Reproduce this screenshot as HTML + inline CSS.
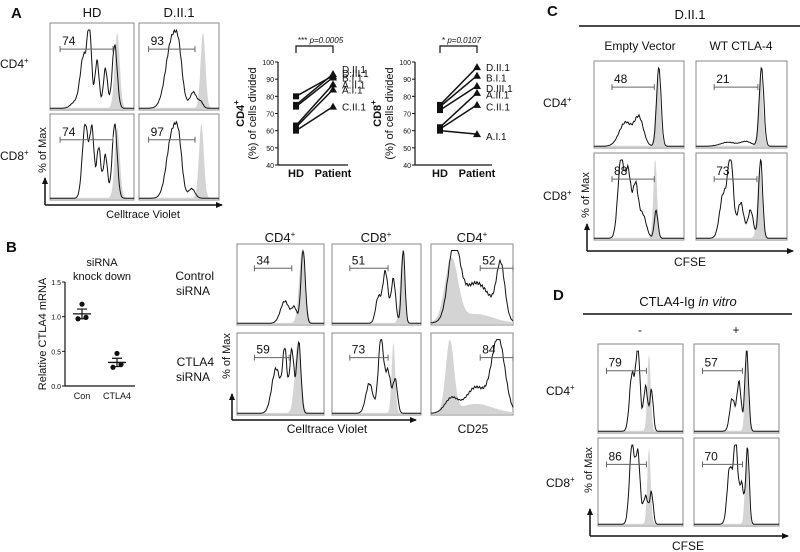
<!DOCTYPE html>
<html><head><meta charset="utf-8">
<style>
html,body{margin:0;padding:0;background:#fff;}
svg{display:block;font-family:"Liberation Sans",sans-serif;}
.lab{font-family:"Liberation Sans",sans-serif;fill:#111;}
</style></head>
<body>
<svg id="fig" width="800" height="552" viewBox="0 0 800 552" xmlns="http://www.w3.org/2000/svg">
<defs>
<marker id="arr" markerWidth="8" markerHeight="8" refX="6" refY="3" orient="auto" markerUnits="userSpaceOnUse"><path d="M0,0 L7,3 L0,6 Z" fill="#111"/></marker>
</defs>
<!-- Panel letters -->
<text x="11" y="18" font-size="15" font-weight="bold" class="lab">A</text>
<text x="6" y="252" font-size="15" font-weight="bold" class="lab">B</text>
<text x="547" y="16" font-size="15" font-weight="bold" class="lab">C</text>
<text x="553" y="300" font-size="15" font-weight="bold" class="lab">D</text>

<!-- Panel A text -->
<text x="92" y="17" font-size="13" text-anchor="middle" class="lab">HD</text>
<text x="179" y="17" font-size="13" text-anchor="middle" class="lab">D.II.1</text>
<text x="0" y="68" font-size="12" class="lab">CD4<tspan font-size="8" dy="-5">+</tspan></text>
<text x="0" y="160" font-size="12" class="lab">CD8<tspan font-size="8" dy="-5">+</tspan></text>
<text transform="translate(46,150) rotate(-90)" font-size="11" text-anchor="middle" class="lab">% of Max</text>
<line x1="45" y1="205" x2="45" y2="178" stroke="#111" stroke-width="1.5" marker-end="url(#arr)"/>
<line x1="45" y1="205" x2="222" y2="205" stroke="#111" stroke-width="1.5" marker-end="url(#arr)"/>
<text x="143" y="218" font-size="11" text-anchor="middle" class="lab">Celltrace Violet</text>

<!-- Panel B text -->
<text x="102" y="266" font-size="11" text-anchor="middle" class="lab">siRNA</text>
<text x="102" y="280" font-size="11" text-anchor="middle" class="lab">knock down</text>
<text x="280" y="242" font-size="13" text-anchor="middle" class="lab">CD4<tspan font-size="8" dy="-5">+</tspan></text>
<text x="376" y="242" font-size="13" text-anchor="middle" class="lab">CD8<tspan font-size="8" dy="-5">+</tspan></text>
<text x="472" y="242" font-size="13" text-anchor="middle" class="lab">CD4<tspan font-size="8" dy="-5">+</tspan></text>
<text x="214" y="280" font-size="12" text-anchor="end" class="lab">Control</text>
<text x="210" y="295" font-size="12" text-anchor="end" class="lab">siRNA</text>
<text x="214" y="366" font-size="12" text-anchor="end" class="lab">CTLA4</text>
<text x="210" y="381" font-size="12" text-anchor="end" class="lab">siRNA</text>
<text transform="translate(230,356) rotate(-90)" font-size="11" text-anchor="middle" class="lab">% of Max</text>
<line x1="232" y1="420" x2="232" y2="394" stroke="#111" stroke-width="1.5" marker-end="url(#arr)"/>
<line x1="232" y1="420" x2="416" y2="420" stroke="#111" stroke-width="1.5" marker-end="url(#arr)"/>
<text x="327" y="433" font-size="12" text-anchor="middle" class="lab">Celltrace Violet</text>
<text x="473" y="433" font-size="12" text-anchor="middle" class="lab">CD25</text>

<!-- Panel C text -->
<text x="690" y="19" font-size="13" text-anchor="middle" class="lab">D.II.1</text>
<line x1="579" y1="26" x2="800" y2="26" stroke="#111" stroke-width="1.5"/>
<text x="640" y="50" font-size="12" text-anchor="middle" class="lab">Empty Vector</text>
<text x="741" y="50" font-size="12" text-anchor="middle" class="lab">WT CTLA-4</text>
<text x="543" y="107" font-size="12" class="lab">CD4<tspan font-size="8" dy="-5">+</tspan></text>
<text x="543" y="200" font-size="12" class="lab">CD8<tspan font-size="8" dy="-5">+</tspan></text>
<text transform="translate(589,195) rotate(-90)" font-size="11" text-anchor="middle" class="lab">% of Max</text>
<line x1="587" y1="251" x2="587" y2="224" stroke="#111" stroke-width="1.5" marker-end="url(#arr)"/>
<line x1="587" y1="251" x2="793" y2="251" stroke="#111" stroke-width="1.5" marker-end="url(#arr)"/>
<text x="690" y="266" font-size="12" text-anchor="middle" class="lab">CFSE</text>

<!-- Panel D text -->
<text x="688" y="306" font-size="13" text-anchor="middle" class="lab">CTLA4-Ig <tspan font-style="italic">in vitro</tspan></text>
<line x1="583" y1="314" x2="792" y2="314" stroke="#111" stroke-width="1.5"/>
<text x="640" y="334" font-size="12" text-anchor="middle" class="lab">-</text>
<text x="736" y="334" font-size="12" text-anchor="middle" class="lab">+</text>
<text x="546" y="395" font-size="12" class="lab">CD4<tspan font-size="8" dy="-5">+</tspan></text>
<text x="546" y="487" font-size="12" class="lab">CD8<tspan font-size="8" dy="-5">+</tspan></text>
<text transform="translate(592,470) rotate(-90)" font-size="11" text-anchor="middle" class="lab">% of Max</text>
<line x1="590" y1="536" x2="590" y2="509" stroke="#111" stroke-width="1.5" marker-end="url(#arr)"/>
<line x1="590" y1="536" x2="788" y2="536" stroke="#111" stroke-width="1.5" marker-end="url(#arr)"/>
<text x="688" y="550" font-size="12" text-anchor="middle" class="lab">CFSE</text>

<g id="dyn"></g>
</svg>
<script>
// ---- Paired chart data (panel A) ----
const cd4HD = [80, 75, 74, 63, 62, 60];
const cd4Patient = [92, 93, 91, 87, 84, 74];
const cd4Labels = ["D.II.1", "D.III.1", "B.I.1", "A.II.1", "A.I.1", "C.II.1"];
const cd4LabelVals = [96, 93.5, 91, 87, 84, 74];
const cd8HD = [75, 74, 72, 62, 61, 60];
const cd8Patient = [97, 92, 86, 82, 75, 58];
const cd8Labels = ["D.II.1", "B.I.1", "D.III.1", "A.II.1", "C.II.1", "A.I.1"];
const cd8LabelVals = [97, 91, 85, 81, 74, 57];
const pairTicks = [40, 50, 60, 70, 80, 90, 100];
// ---- Knockdown scatter (panel B) ----
const kdGroups = ["Con", "CTLA4"];
const kdPoints = [[1.18, 0.97, 0.99], [0.47, 0.27, 0.31]];
const kdMean = [1.04, 0.34];
const kdSem = [0.07, 0.06];
const kdTicks = [0.0, 0.5, 1.0, 1.5];
// ---- Histogram data: peaks [position, height, sigma], grey [pos, height, sigma] ----
const histPeaks = {
 aHD4: [[0.3,0.08,0.05],[0.4,0.65,0.04],[0.47,0.95,0.025],[0.56,0.6,0.025],[0.66,0.5,0.025],[0.77,0.8,0.03]],
 aD4: [[0.42,0.9,0.08],[0.5,0.3,0.04],[0.68,0.2,0.04],[0.77,0.08,0.03]],
 aHD8: [[0.42,0.95,0.035],[0.5,0.85,0.025],[0.58,0.65,0.025],[0.66,0.55,0.025],[0.77,0.95,0.03]],
 aD8: [[0.42,0.85,0.07],[0.5,0.4,0.04],[0.66,0.12,0.04]],
 bC4: [[0.55,0.3,0.05],[0.66,0.2,0.03],[0.76,1.0,0.025]],
 bC8: [[0.52,0.35,0.03],[0.6,0.7,0.03],[0.69,0.6,0.025],[0.8,1.0,0.02]],
 bC25: [[0.28,0.95,0.07],[0.55,0.55,0.18],[0.85,0.7,0.05]],
 bS4: [[0.45,0.6,0.05],[0.55,0.8,0.025],[0.63,0.85,0.025],[0.71,0.95,0.025]],
 bS8: [[0.42,0.4,0.04],[0.55,1.0,0.03],[0.63,0.55,0.03],[0.71,0.45,0.025]],
 bS25: [[0.25,0.2,0.08],[0.55,0.35,0.12],[0.82,1.0,0.08]],
 cE4: [[0.35,0.3,0.07],[0.5,0.35,0.05],[0.72,1.0,0.025]],
 cW4: [[0.35,0.05,0.08],[0.55,0.06,0.06],[0.72,1.0,0.025]],
 cE8: [[0.3,1.0,0.035],[0.38,0.8,0.03],[0.46,0.65,0.03],[0.54,0.3,0.04],[0.69,0.35,0.02]],
 cW8: [[0.3,0.55,0.04],[0.38,1.0,0.03],[0.49,0.45,0.035],[0.6,0.35,0.03],[0.71,1.0,0.022]],
 dM4: [[0.4,0.7,0.03],[0.47,1.0,0.025],[0.56,0.55,0.025],[0.63,0.5,0.02]],
 dP4: [[0.45,0.4,0.03],[0.53,0.6,0.025],[0.62,1.0,0.022]],
 dM8: [[0.4,1.0,0.03],[0.47,0.85,0.025],[0.56,0.35,0.03],[0.63,0.38,0.02]],
 dP8: [[0.42,0.7,0.03],[0.49,1.0,0.025],[0.56,0.5,0.025],[0.63,0.95,0.02]]
};
const histGrey = {
 aHD4:[0.8,0.95,0.03], aD4:[0.8,0.95,0.03], aHD8:[0.8,0.9,0.03], aD8:[0.78,0.95,0.03],
 bC4:[0.75,1.0,0.035], bC8:[0.79,0.95,0.025], bC25:[0.25,0.85,0.08], bS4:[0.7,0.95,0.035], bS8:[0.69,0.95,0.02], bS25:[0.23,0.95,0.05],
 cE4:[0.71,0.9,0.025], cW4:[0.71,0.9,0.025], cE8:[0.68,1.0,0.02], cW8:[0.7,0.9,0.025],
 dM4:[0.6,0.95,0.02], dP4:[0.62,0.9,0.02], dM8:[0.6,0.95,0.02], dP8:[0.62,0.9,0.02]
};
const histGate = {
 aHD4:[0.12,0.75,"74"], aD4:[0.12,0.7,"93"], aHD8:[0.12,0.75,"74"], aD8:[0.12,0.7,"97"],
 bC4:[0.2,0.63,"34"], bC8:[0.2,0.63,"51"], bC25:[0.6,1.0,"52"], bS4:[0.2,0.6,"59"], bS8:[0.2,0.63,"73"], bS25:[0.6,1.0,"84"],
 cE4:[0.2,0.67,"48"], cW4:[0.2,0.68,"21"], cE8:[0.2,0.67,"88"], cW8:[0.2,0.67,"73"],
 dM4:[0.1,0.57,"79"], dP4:[0.1,0.57,"57"], dM8:[0.1,0.57,"86"], dP8:[0.1,0.57,"70"]
};

const NS = "http://www.w3.org/2000/svg";
const root = document.getElementById("dyn");
function mk(tag, attrs, parent) {
  const e = document.createElementNS(NS, tag);
  for (const k in attrs) e.setAttribute(k, attrs[k]);
  (parent || root).appendChild(e);
  return e;
}
function gauss(x, p) { return p[1] * Math.exp(-0.5 * Math.pow((x - p[0]) / p[2], 2)); }

const boxes = [
 ["aHD4",50,23,84,87],["aD4",139,23,80,87],["aHD8",50,114,84,86],["aD8",139,114,80,86],
 ["bC4",237,244,87,81],["bC8",332,244,89,81],["bC25",431,244,82,81],
 ["bS4",237,333,87,82],["bS8",332,333,89,82],["bS25",431,333,82,82],
 ["cE4",594,61,90,87],["cW4",696,61,91,87],["cE8",594,153,90,87],["cW8",696,153,91,87],
 ["dM4",598,344,85,89],["dP4",694,344,85,89],["dM8",598,438,85,88],["dP8",694,438,85,88]
];
boxes.forEach(b => {
  const [key, x, y, w, h] = b;
  const g = mk("g", {});
  
  
  mk("rect", {x:x, y:y, width:w, height:h, fill:"#fff", stroke:"#888", "stroke-width":1}, g);
  const top = y + 0.08 * h, bot = y + h - 1, H = bot - top;
  const N = 120;
  const gr = histGrey[key];
  let gp = `M${x},${bot}`;
  let bp = "";
  for (let i = 0; i <= N; i++) {
    const t = i / N;
    let gv = gauss(t, gr) + 0.015;
    if (key === "bC25" || key === "bS25") gv += 0.12 * Math.exp(-0.5 * Math.pow((t - 0.55) / 0.2, 2));
    gp += ` L${(x + t * w).toFixed(1)},${(bot - Math.min(gv,1) * H).toFixed(1)}`;
    let v = 0.01;
    histPeaks[key].forEach(p => { v += gauss(t, p); });
    v += 0.04 * Math.sin(i * 1.7) * Math.min(v, 0.5);
    v = Math.max(0, Math.min(1, v));
    bp += (i ? " L" : "M") + (x + t * w).toFixed(1) + "," + (bot - v * H).toFixed(1);
  }
  gp += ` L${x + w},${bot} Z`;
  const gpEl = mk("path", {d: gp, fill: "#d4d4d4", stroke: "none"}, g);
  
  
  const bpEl = mk("path", {d: bp, fill: "none", stroke: "#111", "stroke-width": 1}, g);
  
  
  const gt = histGate[key];
  const gy = y + 0.3 * h, x0 = x + gt[0] * w, x1 = x + gt[1] * w;
  mk("path", {d: `M${x0},${gy-3} V${gy+3} M${x0},${gy} H${x1} M${x1},${gy-3} V${gy+3}`, stroke:"#666", "stroke-width":1, fill:"none"}, g);
  const t = mk("text", {x: x0 + 2, y: gy - 4, "font-size": 12, class: "lab"}, g);
  
  
  t.textContent = gt[2];
});

// ---- Paired charts ----
function pairChart(ax, hdX, ptX, hdV, ptV, labels, labelVals, title, ptext, nm) {
  const yTop = 62, yBot = 165;
  const ys = v => yBot - (v - 40) / 60 * (yBot - yTop);
  const g = mk("g", {});
  
  
  mk("line", {x1: ax, y1: yTop, x2: ax, y2: yBot, stroke: "#111", "stroke-width": 1.2}, g);
  mk("line", {x1: ax, y1: yBot, x2: ptX + 15, y2: yBot, stroke: "#111", "stroke-width": 1.2}, g);
  pairTicks.forEach(tv => {
    mk("line", {x1: ax - 3, y1: ys(tv), x2: ax, y2: ys(tv), stroke: "#111"}, g);
    const t = mk("text", {x: ax - 4, y: ys(tv) + 3, "font-size": 7, "text-anchor": "end", class: "lab"}, g);
    
    
    t.textContent = tv;
  });
  hdV.forEach((v, i) => {
    mk("line", {x1: hdX, y1: ys(v), x2: ptX, y2: ys(ptV[i]), stroke: "#111", "stroke-width": 1.5}, g);
    const s = mk("rect", {x: hdX - 3, y: ys(v) - 3, width: 6, height: 6, fill: "#111"}, g);
    
    
    const py = ys(ptV[i]);
    const tr = mk("path", {d: `M${ptX},${py-4} L${ptX+4},${py+3} L${ptX-4},${py+3} Z`, fill: "#111"}, g);
    
    
  });
  labels.forEach((l, i) => {
    const t = mk("text", {x: ptX + 9, y: ys(labelVals[i]) + 4, "font-size": 10, class: "lab"}, g);
    
    
    t.textContent = l;
  });
  [["HD", hdX], ["Patient", ptX]].forEach(c => {
    const t = mk("text", {x: c[1], y: 177, "font-size": 11, "font-weight": "bold", "text-anchor": "middle", class: "lab"}, g);
    
    
    t.textContent = c[0];
  });
  mk("path", {d: `M${hdX},53 V46 H${ptX} V53`, fill: "none", stroke: "#111", "stroke-width": 1.2}, g);
  const pt = mk("text", {x: hdX + 2, y: 43, "font-size": 8, class: "lab"}, g);
  
  
  pt.innerHTML = ptext;
  const yt = mk("text", {transform: `translate(${ax - 22},${(yTop + yBot) / 2}) rotate(-90)`, "font-size": 11, "text-anchor": "middle", class: "lab"}, g);
  
  
  yt.innerHTML = `<tspan x="0" dy="-12" font-weight="bold">${title}<tspan font-size="8" dy="-5">+</tspan></tspan><tspan x="0" dy="17">(%) of cells divided</tspan>`;
}
pairChart(278, 296, 333, cd4HD, cd4Patient, cd4Labels, cd4LabelVals, "CD4", '*** <tspan font-style="italic">p=0.0005</tspan>', "cd4-paired-chart");
pairChart(415, 440, 477, cd8HD, cd8Patient, cd8Labels, cd8LabelVals, "CD8", '* <tspan font-style="italic">p=0.0107</tspan>', "cd8-paired-chart");

// ---- Knockdown scatter ----
(function () {
  const ax = 65, yTop = 282, yBot = 386;
  const ys = v => yBot - v / 1.5 * (yBot - yTop);
  const xs = [82, 117];
  const g = mk("g", {});
  
  
  mk("line", {x1: ax, y1: yTop, x2: ax, y2: yBot, stroke: "#111", "stroke-width": 1.2}, g);
  mk("line", {x1: ax, y1: yBot, x2: 135, y2: yBot, stroke: "#111", "stroke-width": 1.2}, g);
  kdTicks.forEach(tv => {
    mk("line", {x1: ax - 3, y1: ys(tv), x2: ax, y2: ys(tv), stroke: "#111"}, g);
    const t = mk("text", {x: ax - 4, y: ys(tv) + 3, "font-size": 7, "text-anchor": "end", class: "lab"}, g);
    
    
    t.textContent = tv.toFixed(1);
  });
  kdGroups.forEach((gname, i) => {
    const cx = xs[i];
    const offs = [0, -4, 4];
    kdPoints[i].forEach((v, j) => {
      const c = mk("circle", {cx: cx + offs[j], cy: ys(v), r: 2.6, fill: "#111"}, g);
      
      
    });
    mk("line", {x1: cx - 9, y1: ys(kdMean[i]), x2: cx + 9, y2: ys(kdMean[i]), stroke: "#111", "stroke-width": 1.3}, g);
    mk("path", {d: `M${cx},${ys(kdMean[i] + kdSem[i])} V${ys(kdMean[i] - kdSem[i])} M${cx-5},${ys(kdMean[i] + kdSem[i])} H${cx+5} M${cx-5},${ys(kdMean[i] - kdSem[i])} H${cx+5}`, stroke: "#111", fill: "none", "stroke-width": 1.2}, g);
    const t = mk("text", {x: cx, y: 399, "font-size": 9, "text-anchor": "middle", class: "lab"}, g);
    
    
    t.textContent = gname;
  });
  const yt = mk("text", {transform: `translate(46,334) rotate(-90)`, "font-size": 11, "text-anchor": "middle", class: "lab"}, g);
  
  
  yt.textContent = "Relative CTLA4 mRNA";
})();
</script>
</body></html>
